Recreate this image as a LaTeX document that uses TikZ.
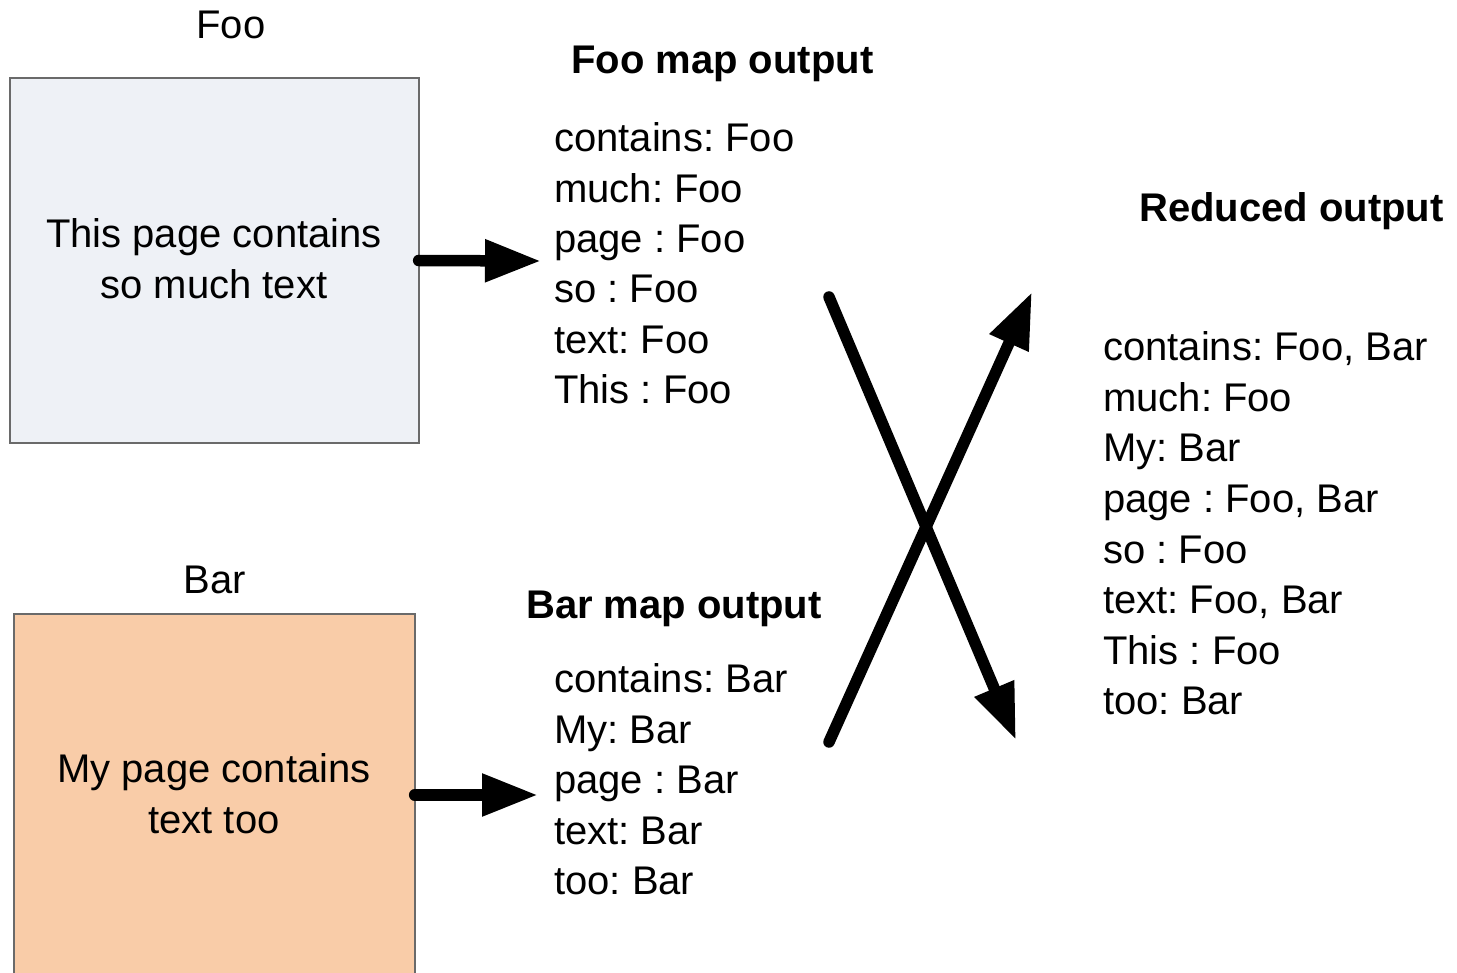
\documentclass[tikz,border=0pt]{standalone}
\usepackage{fontspec}
\setmainfont{Liberation Sans}
\usetikzlibrary{arrows.meta}
\frenchspacing
\definecolor{boxblue}{HTML}{EEF1F6}
\definecolor{boxpeach}{HTML}{F9CCA8}
\definecolor{boxline}{HTML}{6A6A6A}
\tikzset{
  txt/.style={inner sep=0pt, anchor=base west, font=\fontsize{40}{50}\selectfont\frenchspacing},
  ctxt/.style={inner sep=0pt, anchor=base, font=\fontsize{40}{50}\selectfont\frenchspacing},
  head/.style={inner sep=0pt, anchor=base west, font=\fontsize{40}{50}\selectfont\bfseries},
  page/.style={draw=boxline, line width=1.3pt, inner sep=0pt},
  bigarrow/.style={line width=11.5pt, line cap=round, -{Triangle[length=56pt,width=40pt]}}
}
\begin{document}
\begin{tikzpicture}[x=1pt,y=-1pt]
\useasboundingbox (0,0) rectangle (1457,973);
% page boxes
\node[page, fill=boxblue, minimum width=409pt, minimum height=365pt] (foobox) at (214.5,260.5) {};
\node[page, fill=boxpeach, minimum width=401pt, minimum height=362pt] (barbox) at (214.5,795) {};
% labels above boxes
\node[ctxt] (foolabel) at (231,39) {Foo};
\node[ctxt] (barlabel) at (215,593) {Bar};
% box texts
\node[ctxt] (foot1) at (214,248) {This page contains};
\node[ctxt] (foot2) at (214,299) {so much text};
\node[ctxt] (bart1) at (214,782) {My page contains};
\node[ctxt] (bart2) at (214,833) {text too};
% headings
\node[head] (foohead) at (571,74) {Foo map output};
\node[head] (barhead) at (526,618) {Bar map output};
\node[head] (redhead) at (1139,222) {Reduced output};
% Foo map list
\node[txt] (fm1) at (554,152) {contains: Foo};
\node[txt] (fm2) at (554,203) {much: Foo};
\node[txt] (fm3) at (554,253) {page : Foo};
\node[txt] (fm4) at (554,303) {so : Foo};
\node[txt] (fm5) at (554,354) {text: Foo};
\node[txt] (fm6) at (554,404) {This : Foo};
% Bar map list
\node[txt] (bm1) at (554,692) {contains: Bar};
\node[txt] (bm2) at (554,743) {My: Bar};
\node[txt] (bm3) at (554,793) {page : Bar};
\node[txt] (bm4) at (554,844) {text: Bar};
\node[txt] (bm5) at (554,894) {too: Bar};
% Reduced list
\node[txt] (r1) at (1103,361) {contains: Foo, Bar};
\node[txt] (r2) at (1103,412) {much: Foo};
\node[txt] (r3) at (1103,462) {My: Bar};
\node[txt] (r4) at (1103,512) {page : Foo, Bar};
\node[txt] (r5) at (1103,563) {so : Foo};
\node[txt] (r6) at (1103,613) {text: Foo, Bar};
\node[txt] (r7) at (1103,664) {This : Foo};
\node[txt] (r8) at (1103,714) {too: Bar};
% arrow coordinates
\coordinate (footip) at (541,261);
\coordinate (bartip) at (538,795);
\coordinate (x1s) at (829,297);
\coordinate (x1e) at (1016,740);
\coordinate (x2s) at (829,742);
\coordinate (x2e) at (1032,292);
% arrows
\draw[bigarrow] ([xshift=-1pt]foobox.east) -- (footip);
\draw[bigarrow] ([xshift=-1pt]barbox.east) -- (bartip);
\draw[bigarrow] (x1s) -- (x1e);
\draw[bigarrow] (x2s) -- (x2e);
\end{tikzpicture}
\end{document}
